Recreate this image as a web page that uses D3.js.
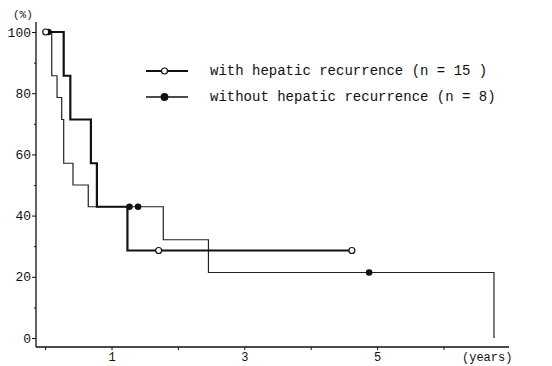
<!DOCTYPE html>
<html><head><meta charset="utf-8">
<script src="https://cdn.jsdelivr.net/npm/d3@7"></script>
<style>body{margin:0;background:#fff}svg{display:block}text{font-family:"Liberation Mono","DejaVu Sans Mono",monospace;fill:#111}</style>
</head><body><svg id="c" width="552" height="366"></svg>
<script>
// Kaplan-Meier data (time in years, survival in %)
const withDropTimes = [0.28, 0.38, 0.69, 0.78, 1.24];
const withLevels = [100, 85.7, 71.4, 57.1, 42.9, 28.6];
const withEnd = 4.62;
const withCensored = [0.01, 1.71, 4.62];

const withoutDropTimes = [0.10, 0.18, 0.25, 0.28, 0.42, 0.65, 1.78, 2.46, 6.76];
const withoutLevels = [100, 85.7, 78.6, 71.4, 57.1, 50, 42.9, 32.1, 21.4, 0];
const withoutEnd = 6.76;
const withoutCensored = [0.05, 1.27, 1.40, 4.88];

const xTicks = [0, 1, 2, 3, 4, 5, 6];
const xTickLabels = ["", "1", "", "3", "", "5", ""];
const yTicks = [0, 10, 20, 30, 40, 50, 60, 70, 80, 90, 100];
const yTickLabels = [0, 20, 40, 60, 80, 100];
const legendLabels = ["with hepatic recurrence (n = 15 )", "without hepatic recurrence (n = 8)"];

const svg = d3.select("#c");
const x = d3.scaleLinear().domain([0, 6]).range([45.1, 443.5]);
const y = d3.scaleLinear().domain([0, 100]).range([338, 32]);

// axes lines
svg.append("line").attr("x1", 36).attr("x2", 36).attr("y1", 22).attr("y2", 347).attr("stroke", "#111").attr("stroke-width", 1.3);
svg.append("line").attr("x1", 36).attr("x2", 509).attr("y1", 347).attr("y2", 347).attr("stroke", "#111").attr("stroke-width", 1.3);

// y axis ticks
const yAx = svg.append("g").attr("transform", "translate(36,0)")
  .call(d3.axisLeft(y).tickValues(yTicks).tickSize(4).tickFormat(d => yTickLabels.includes(d) ? d : ""));
yAx.select(".domain").remove();
yAx.selectAll(".tick line").attr("stroke", "#111").attr("x2", d => yTickLabels.includes(d) ? -4 : -2);
yAx.selectAll(".tick text").attr("x", -5).style("font-size", "13px").style("font-family", "'Liberation Mono',monospace").attr("fill", "#111");

// x axis ticks
const xAx = svg.append("g").attr("transform", "translate(0,347)")
  .call(d3.axisBottom(x).tickValues(xTicks).tickSize(3).tickFormat((d, i) => xTickLabels[i]));
xAx.select(".domain").remove();
xAx.selectAll(".tick line").attr("stroke", "#111");
xAx.selectAll(".tick text").attr("y", 5).style("font-size", "12px").style("font-family", "'Liberation Mono',monospace").attr("fill", "#111");

svg.append("text").attr("x", 462).attr("y", 361).style("font-size", "12px").text("(years)");
svg.append("text").attr("x", 13).attr("y", 18).style("font-size", "11px").text("(%)");

function steps(dropTimes, levels, end) {
  const pts = [[0, levels[0]]];
  dropTimes.forEach((t, i) => pts.push([t, levels[i + 1]]));
  pts.push([end, levels[levels.length - 1]]);
  return pts;
}
function levelAt(dropTimes, levels, t) {
  let l = levels[0];
  dropTimes.forEach((dt, i) => { if (t >= dt) l = levels[i + 1]; });
  return l;
}
const line = d3.line().x(d => x(d[0])).y(d => y(d[1])).curve(d3.curveStepAfter);

svg.append("path").datum(steps(withoutDropTimes, withoutLevels, withoutEnd))
  .attr("d", line).attr("fill", "none").attr("stroke", "#222").attr("stroke-width", 1.2);
svg.append("path").datum(steps(withDropTimes, withLevels, withEnd))
  .attr("d", line).attr("fill", "none").attr("stroke", "#111").attr("stroke-width", 2.2);

svg.selectAll("circle.wo").data(withoutCensored).join("circle")
  .attr("cx", d => x(d)).attr("cy", d => y(levelAt(withoutDropTimes, withoutLevels, d)))
  .attr("r", 3.3).attr("fill", "#111");
svg.selectAll("circle.w").data(withCensored).join("circle")
  .attr("cx", d => x(d)).attr("cy", d => y(levelAt(withDropTimes, withLevels, d)))
  .attr("r", 3).attr("fill", "#fff").attr("stroke", "#111").attr("stroke-width", 1.2);

// legend
const lg = [{y: 71, w: 2.2, open: true}, {y: 97, w: 1.6, open: false}];
lg.forEach((l, i) => {
  svg.append("line").attr("x1", 146).attr("x2", 188).attr("y1", l.y).attr("y2", l.y).attr("stroke", "#111").attr("stroke-width", l.w);
  svg.append("circle").attr("cx", 164.5).attr("cy", l.y).attr("r", l.open ? 3 : 3.3)
    .attr("fill", l.open ? "#fff" : "#111").attr("stroke", "#111").attr("stroke-width", 1.2);
  svg.append("text").attr("x", 210).attr("y", l.y + 4).style("font-size", "14px").text(legendLabels[i]);
});
</script></body></html>
